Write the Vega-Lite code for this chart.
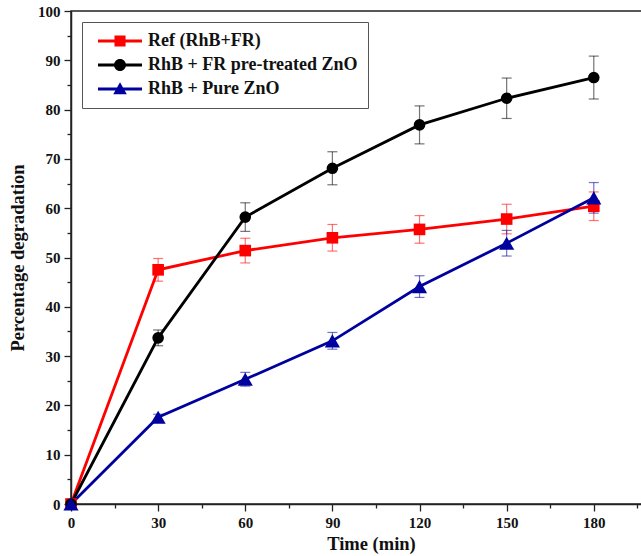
{
  "$schema": "https://vega.github.io/schema/vega-lite/v6.json",
  "autosize": {"type": "none"},
  "padding": {"left": 71, "top": 11, "right": 0, "bottom": 52},
  "width": 571,
  "height": 493,
  "background": "white",
  "config": {
    "view": {"stroke": "#222", "strokeWidth": 1.5},
    "font": "Liberation Serif",
    "axis": {
      "grid": false,
      "domainColor": "#222",
      "domainWidth": 1.5,
      "tickColor": "#222",
      "tickWidth": 1.3,
      "labelFont": "Liberation Serif",
      "labelFontWeight": "bold",
      "labelFontSize": 15,
      "labelColor": "#111",
      "titleFont": "Liberation Serif",
      "titleFontWeight": "bold",
      "titleFontSize": 18.5,
      "titleColor": "#111"
    },
    "legend": {
      "orient": "none",
      "legendX": 11,
      "legendY": 11,
      "padding": 10,
      "strokeColor": "#555",
      "fillColor": "white",
      "symbolSize": 144,
      "symbolOpacity": 1,
      "symbolStrokeWidth": 0,
      "labelOffset": 38,
      "rowPadding": 6,
      "labelFont": "Liberation Serif",
      "labelFontWeight": "bold",
      "labelFontSize": 18,
      "labelColor": "#111",
      "labelLimit": 400
    }
  },
  "data": {
    "values": [
      {"series": "Ref (RhB+FR)", "time": 0, "value": 0, "err": 0},
      {"series": "Ref (RhB+FR)", "time": 30, "value": 47.5, "err": 2.3},
      {"series": "Ref (RhB+FR)", "time": 60, "value": 51.4, "err": 2.5},
      {"series": "Ref (RhB+FR)", "time": 90, "value": 54.0, "err": 2.7},
      {"series": "Ref (RhB+FR)", "time": 120, "value": 55.7, "err": 2.8},
      {"series": "Ref (RhB+FR)", "time": 150, "value": 57.8, "err": 3.0},
      {"series": "Ref (RhB+FR)", "time": 180, "value": 60.4, "err": 2.9},
      {"series": "RhB + FR pre-treated ZnO", "time": 0, "value": 0, "err": 0},
      {"series": "RhB + FR pre-treated ZnO", "time": 30, "value": 33.7, "err": 1.6},
      {"series": "RhB + FR pre-treated ZnO", "time": 60, "value": 58.2, "err": 2.9},
      {"series": "RhB + FR pre-treated ZnO", "time": 90, "value": 68.1, "err": 3.35},
      {"series": "RhB + FR pre-treated ZnO", "time": 120, "value": 76.9, "err": 3.85},
      {"series": "RhB + FR pre-treated ZnO", "time": 150, "value": 82.3, "err": 4.1},
      {"series": "RhB + FR pre-treated ZnO", "time": 180, "value": 86.5, "err": 4.35},
      {"series": "RhB + Pure ZnO", "time": 0, "value": 0, "err": 0},
      {"series": "RhB + Pure ZnO", "time": 30, "value": 17.6, "err": 0.6},
      {"series": "RhB + Pure ZnO", "time": 60, "value": 25.3, "err": 1.4},
      {"series": "RhB + Pure ZnO", "time": 90, "value": 33.1, "err": 1.7},
      {"series": "RhB + Pure ZnO", "time": 120, "value": 44.1, "err": 2.2},
      {"series": "RhB + Pure ZnO", "time": 150, "value": 52.9, "err": 2.6},
      {"series": "RhB + Pure ZnO", "time": 180, "value": 62.1, "err": 3.1}
    ]
  },
  "encoding": {
    "x": {
      "field": "time",
      "type": "quantitative",
      "scale": {"domain": [0, 196.6], "nice": false, "zero": false},
      "axis": {
        "title": "Time (min)",
        "values": [0, 15, 30, 45, 60, 75, 90, 105, 120, 135, 150, 165, 180, 195],
        "labelExpr": "datum.value % 30 === 0 ? datum.label : ''",
        "tickSize": {"condition": {"test": "datum.value % 30 === 0", "value": 7}, "value": 4},
        "labelPadding": 4,
        "titlePadding": 4,
        "titleX": 300,
        "titleAlign": "center",
        "labelFlush": false
      }
    },
    "y": {
      "field": "value",
      "type": "quantitative",
      "scale": {"domain": [0, 100], "nice": false},
      "axis": {
        "title": "Percentage degradation",
        "values": [0, 5, 10, 15, 20, 25, 30, 35, 40, 45, 50, 55, 60, 65, 70, 75, 80, 85, 90, 95, 100],
        "labelExpr": "datum.value % 10 === 0 ? datum.label : ''",
        "tickSize": {"condition": {"test": "datum.value % 10 === 0", "value": 7}, "value": 4},
        "labelPadding": 4,
        "titlePadding": 10,
        "labelFlush": false
      }
    },
    "color": {
      "field": "series",
      "type": "nominal",
      "scale": {"domain": ["Ref (RhB+FR)", "RhB + FR pre-treated ZnO", "RhB + Pure ZnO"], "range": ["#ff0000", "#000000", "#00009f"]},
      "legend": {"title": null}
    }
  },
  "layer": [
    {
      "transform": [{"filter": "datum.err > 0"}],
      "mark": {"type": "errorbar", "ticks": {"size": 10}, "thickness": 1.2, "opacity": 0.55},
      "encoding": {
        "yError": {"field": "err"}
      }
    },
    {
      "mark": {"type": "line", "strokeWidth": 2.8}
    },
    {
      "transform": [{"filter": "datum.series === 'Ref (RhB+FR)'"}],
      "mark": {"type": "square", "size": 135, "opacity": 1}
    },
    {
      "transform": [{"filter": "datum.series === 'RhB + FR pre-treated ZnO'"}],
      "mark": {"type": "circle", "size": 135, "opacity": 1}
    },
    {
      "transform": [{"filter": "datum.series === 'RhB + Pure ZnO'"}],
      "mark": {"type": "point", "shape": "triangle-up", "filled": true, "size": 230, "opacity": 1}
    },
    {
      "mark": {"type": "point", "filled": true, "opacity": 0, "size": 144},
      "encoding": {
        "shape": {
          "field": "series",
          "type": "nominal",
          "scale": {
            "domain": ["Ref (RhB+FR)", "RhB + FR pre-treated ZnO", "RhB + Pure ZnO"],
            "range": [
              "M-0.5,-0.25H6.83V0.25H-0.5Z M2.25,-0.92H4.09V0.92H2.25Z",
              "M-0.5,-0.25H6.83V0.25H-0.5Z M2.17,0A1,1 0 1,1 4.17,0A1,1 0 1,1 2.17,0Z",
              "M-0.5,-0.25H6.83V0.25H-0.5Z M3.17,-1.12L4.3,0.86L2.04,0.86Z"
            ]
          },
          "legend": {"title": null}
        }
      }
    }
  ]
}
